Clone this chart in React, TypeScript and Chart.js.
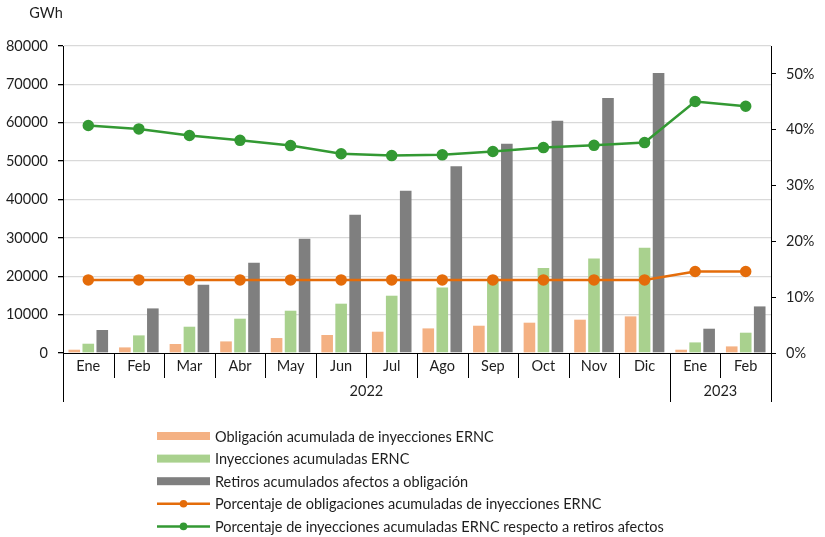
import React, { useEffect, useRef } from "react";
import { Chart, registerables } from "chart.js";

Chart.register(...registerables);

// Month categories and the year groups they belong to
const months = ["Ene", "Feb", "Mar", "Abr", "May", "Jun", "Jul", "Ago", "Sep", "Oct", "Nov", "Dic", "Ene", "Feb"];
const yearLabels = ["2022", "2023"];
const yearSpans = [12, 2];

// Accumulated energy (GWh)
const obligacion = [860, 1460, 2350, 3020, 3900, 4690, 5550, 6410, 7110, 7900, 8680, 9540, 860, 1720];
const inyecciones = [2420, 4590, 6850, 8940, 11020, 12850, 14930, 17090, 19600, 22150, 24650, 27440, 2760, 5290];
const retiros = [5990, 11620, 17800, 23530, 29780, 36040, 42290, 48650, 54540, 60530, 66440, 72960, 6330, 12140];

// Percentages (%)
const pctObligacion = [13.1, 13.1, 13.1, 13.1, 13.1, 13.1, 13.1, 13.1, 13.1, 13.1, 13.1, 13.1, 14.6, 14.6];
const pctInyecciones = [40.75, 40.15, 38.96, 38.1, 37.16, 35.7, 35.37, 35.5, 36.1, 36.8, 37.2, 37.7, 45.06, 44.2];

const leftTicks = { min: 0, max: 80000, step: 10000 };
const rightTicks = { min: 0, max: 55, step: 10, lastLabel: 50 };

const FONT = "Lato, 'Open Sans', sans-serif";
const TEXT = "#1e1e1e";
const C_OBL = "#F4B183";
const C_INY = "#A9D18E";
const C_RET = "#7F7F7F";
const C_LOBL = "#E46C0A";
const C_LINY = "#339933";

// Draws the grouped category axis, the unit label and the legend list
const decorations = {
  id: "decorations",
  afterDraw(chart: any) {
    const { ctx, chartArea } = chart;
    const x = chart.scales.x;
    const bottom = chartArea.bottom;
    const n = months.length;
    const edge = (i: number) => {
      if (i <= 0) return chartArea.left;
      if (i >= n) return chartArea.right;
      return (x.getPixelForValue(i - 1) + x.getPixelForValue(i)) / 2;
    };
    ctx.save();
    ctx.strokeStyle = "#000";
    ctx.lineWidth = 1;
    // month separators
    for (let i = 1; i < n; i++) {
      const px = Math.round(edge(i)) + 0.5;
      ctx.beginPath();
      ctx.moveTo(px, bottom);
      ctx.lineTo(px, bottom + 25);
      ctx.stroke();
    }
    // year separators and labels
    let start = 0;
    const yearBoundaries = [0];
    yearSpans.forEach((s) => {
      start += s;
      yearBoundaries.push(start);
    });
    yearBoundaries.forEach((b) => {
      const px = Math.round(edge(b)) + 0.5;
      ctx.beginPath();
      ctx.moveTo(px, bottom);
      ctx.lineTo(px, bottom + 49);
      ctx.stroke();
    });
    ctx.fillStyle = TEXT;
    ctx.font = `14.5px ${FONT}`;
    ctx.textAlign = "center";
    ctx.textBaseline = "middle";
    yearLabels.forEach((lab, k) => {
      const cx = (edge(yearBoundaries[k]) + edge(yearBoundaries[k + 1])) / 2;
      ctx.fillText(lab, cx, bottom + 38);
    });
    // unit label
    ctx.fillText("GWh", 46, 13);

    // legend list
    const lx = 157;
    const sw = 53;
    let ly = 436;
    const rowGap = 22.6;
    ctx.textAlign = "left";
    chart.data.datasets.forEach((ds: any) => {
      if (ds.type === "bar") {
        ctx.fillStyle = ds.backgroundColor;
        ctx.fillRect(lx, ly - 4, sw, 8);
      } else {
        ctx.strokeStyle = ds.borderColor;
        ctx.lineWidth = 2.5;
        ctx.beginPath();
        ctx.moveTo(lx, ly);
        ctx.lineTo(lx + sw, ly);
        ctx.stroke();
        ctx.fillStyle = ds.borderColor;
        ctx.beginPath();
        ctx.arc(lx + sw / 2, ly, 3.8, 0, Math.PI * 2);
        ctx.fill();
      }
      ctx.fillStyle = TEXT;
      ctx.fillText(ds.label, lx + sw + 5, ly + 1);
      ly += rowGap;
    });
    ctx.restore();
  },
};

export default function App() {
  const ref = useRef<HTMLCanvasElement>(null);

  useEffect(() => {
    if (!ref.current) return;
    const barCommon = {
      type: "bar" as const,
      yAxisID: "y",
      categoryPercentage: 0.83,
      barPercentage: 0.83,
      order: 2,
    };
    const lineCommon = {
      type: "line" as const,
      yAxisID: "y1",
      borderWidth: 2.5,
      pointRadius: 4.5,
      pointHoverRadius: 4.5,
      tension: 0,
      order: 1,
    };
    const tickFont = { family: FONT, size: 14.5 };
    const chart = new Chart(ref.current, {
      type: "bar",
      data: {
        labels: months,
        datasets: [
          { ...barCommon, label: "Obligación acumulada de inyecciones ERNC", data: obligacion, backgroundColor: C_OBL },
          { ...barCommon, label: "Inyecciones acumuladas ERNC", data: inyecciones, backgroundColor: C_INY },
          { ...barCommon, label: "Retiros acumulados afectos a obligación", data: retiros, backgroundColor: C_RET },
          {
            ...lineCommon,
            label: "Porcentaje de obligaciones acumuladas de inyecciones ERNC",
            data: pctObligacion,
            borderColor: C_LOBL,
            backgroundColor: C_LOBL,
            pointBackgroundColor: C_LOBL,
            pointBorderColor: C_LOBL,
          },
          {
            ...lineCommon,
            label: "Porcentaje de inyecciones acumuladas ERNC respecto a retiros afectos",
            data: pctInyecciones,
            borderColor: C_LINY,
            backgroundColor: C_LINY,
            pointBackgroundColor: C_LINY,
            pointBorderColor: C_LINY,
          },
        ] as any,
      },
      options: {
        animation: false,
        responsive: true,
        maintainAspectRatio: false,
        layout: { padding: { left: 0, right: 0, top: 46, bottom: 135 } },
        plugins: { legend: { display: false }, tooltip: { enabled: false } },
        scales: {
          x: {
            offset: true,
            grid: { display: false, drawTicks: false },
            border: { display: true, color: "#000", width: 1 },
            ticks: { color: TEXT, font: tickFont, padding: 5, maxRotation: 0, autoSkip: false },
            afterFit: (s: any) => {
              s.height = 49;
            },
          },
          y: {
            position: "left",
            min: leftTicks.min,
            max: leftTicks.max,
            ticks: {
              stepSize: leftTicks.step,
              color: TEXT,
              font: tickFont,
              padding: 10,
              callback: (v: any) => String(v),
            },
            grid: {
              color: (c: any) => (c.tick && c.tick.value === 0 ? "rgba(0,0,0,0)" : "#D9D9D9"),
              lineWidth: 1.3,
              tickColor: "#000",
              tickLength: 5,
            },
            border: { display: true, color: "#000", width: 1 },
            afterFit: (s: any) => {
              s.width = 63;
            },
          },
          y1: {
            position: "right",
            min: rightTicks.min,
            max: rightTicks.max,
            ticks: {
              stepSize: rightTicks.step,
              color: TEXT,
              font: tickFont,
              padding: 10,
              callback: (v: any) => `${v}%`,
            },
            afterBuildTicks: (s: any) => {
              s.ticks = s.ticks.filter((t: any) => t.value <= rightTicks.lastLabel);
            },
            grid: { drawOnChartArea: false, tickColor: "#000", tickLength: 5 },
            border: { display: true, color: "#000", width: 1 },
            afterFit: (s: any) => {
              s.width = 54;
            },
          },
        },
      } as any,
      plugins: [decorations],
    });
    return () => chart.destroy();
  }, []);

  return (
    <div style={{ position: "absolute", left: 0, top: 0, width: 825, height: 537, background: "#fff" }}>
      <canvas ref={ref} />
    </div>
  );
}
